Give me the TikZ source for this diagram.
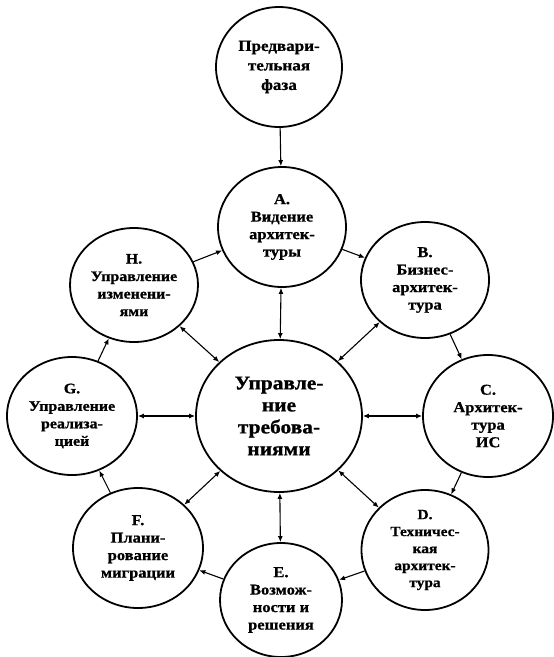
\documentclass[tikz,border=0pt]{standalone}
\usepackage{fontspec}
\setmainfont{Liberation Serif}
\newfontfamily\nodefont[FakeStretch=1.1,FakeBold=0.8]{Liberation Serif}
\usetikzlibrary{shapes.geometric,arrows.meta}
\tikzset{
  stage/.style={ellipse, draw, line width=1.8pt, inner sep=0pt, align=center,
    font=\nodefont\bfseries\fontsize{15}{17.5}\selectfont},
  conn/.style={line width=1.1pt, -{Latex[length=6pt,width=5pt]}},
  bconn/.style={line width=1.1pt, {Latex[length=6pt,width=5pt]}-{Latex[length=6pt,width=5pt]}}
}
\begin{document}
\begin{tikzpicture}[x=1pt,y=-1pt]
\useasboundingbox (0,0) rectangle (554,657);
\node[stage, minimum width=126pt, minimum height=120pt, font=\nodefont\bfseries\fontsize{15.5}{19.5}\selectfont] (P) at (279,67) {Предвари-\\тельная\\фаза};
\node[stage, minimum width=128pt, minimum height=120pt] (A) at (282,227) {A.\\Видение\\архитек-\\туры};
\node[stage, minimum width=128pt, minimum height=116pt] (B) at (425,280) {B.\\Бизнес-\\архитек-\\тура};
\node[stage, minimum width=130pt, minimum height=122pt] (C) at (488,416) {C.\\Архитек-\\тура\\ИС};
\node[stage, minimum width=127pt, minimum height=120pt, font=\nodefont\bfseries\fontsize{14}{17}\selectfont] (D) at (425,550) {D.\\Техничес-\\кая\\архитек-\\тура};
\node[stage, minimum width=122pt, minimum height=114pt] (E) at (281,600) {E.\\Возмож-\\ности и\\решения};
\node[stage, minimum width=130pt, minimum height=120pt] (F) at (138,548) {F.\\Плани-\\рование\\миграции};
\node[stage, minimum width=130pt, minimum height=118pt, font=\nodefont\bfseries\fontsize{14.5}{17.5}\selectfont] (G) at (72,416) {G.\\Управление\\реализа-\\цией};
\node[stage, minimum width=128pt, minimum height=114pt, font=\nodefont\bfseries\fontsize{14.5}{17.5}\selectfont] (H) at (134,285) {H.\\Управление\\изменени-\\ями};
\node[stage, minimum width=166pt, minimum height=152pt, font=\nodefont\bfseries\fontsize{19.5}{22}\selectfont] (R) at (279,416) {Управле-\\ние\\требова-\\ниями};
\draw[conn] (P) -- (A);
\draw[conn] (A) -- (B);
\draw[conn] (B) -- (C);
\draw[conn] (C) -- (D);
\draw[conn] (D) -- (E);
\draw[conn] (E) -- (F);
\draw[conn] (F) -- (G);
\draw[conn] (G) -- (H);
\draw[conn] (H) -- (A);
\foreach \n in {A,B,C,D,E,F,G,H} { \draw[bconn] (R) -- (\n); }
\end{tikzpicture}
\end{document}
